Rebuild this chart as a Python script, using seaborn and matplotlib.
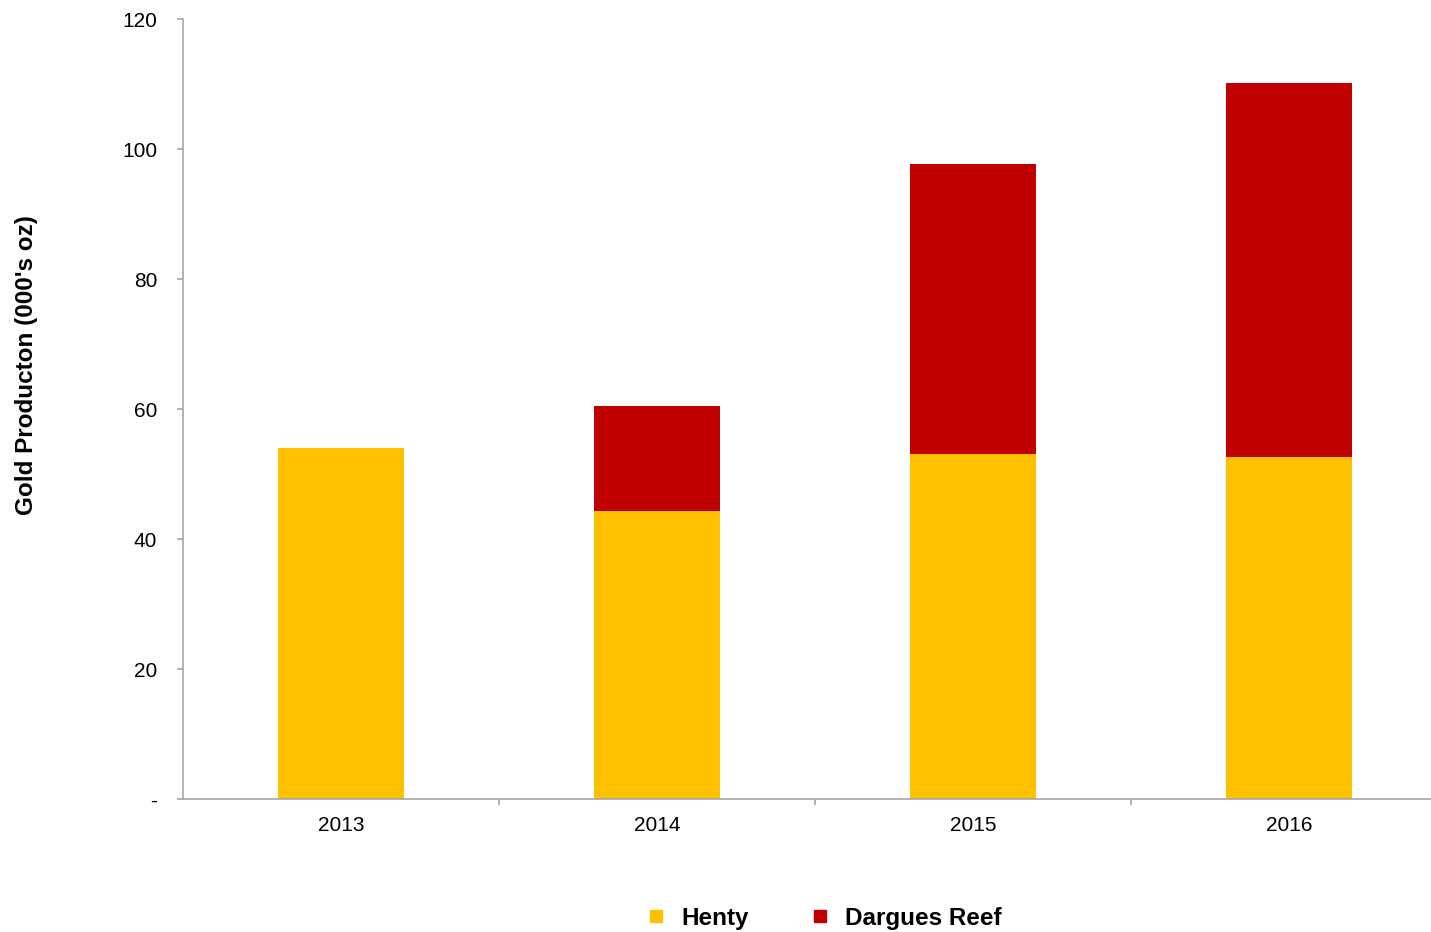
import numpy as np
import pandas as pd
import seaborn as sns
import matplotlib.pyplot as plt
from matplotlib.lines import Line2D

years = ['2013', '2014', '2015', '2016']
henty = [54.0, 44.3, 53.1, 52.6]
dargues = [0.0, 16.2, 44.6, 57.6]

sns.set_style('white')
plt.rcParams['font.family'] = ['Liberation Sans', 'DejaVu Sans']
plt.rcParams['text.color'] = 'black'
plt.rcParams['xtick.labelcolor'] = 'black'
plt.rcParams['ytick.labelcolor'] = 'black'
plt.rcParams['axes.labelcolor'] = 'black'

df = pd.DataFrame({'year': years, 'Henty': henty, 'Dargues Reef': dargues})
df['total'] = df['Henty'] + df['Dargues Reef']

yellow = '#FFC000'
red = '#C00000'
grey = '#A6A6A6'

fig = plt.figure(figsize=(14.31, 9.32), dpi=100)
ax = fig.add_axes([0.1279, 0.1427, 0.8721, 0.8369])

sns.barplot(data=df, x='year', y='total', color=red, width=0.4, saturation=1,
            linewidth=0, ax=ax)
sns.barplot(data=df, x='year', y='Henty', color=yellow, width=0.4, saturation=1,
            linewidth=0, ax=ax)

ax.set_ylim(0, 120)
ax.set_xlim(-0.5, 3.45)
ax.set_yticks([0, 20, 40, 60, 80, 100, 120])
ax.set_yticklabels(['-', '20', '40', '60', '80', '100', '120'])
ax.set_xlabel('')
ax.set_ylabel("Gold Producton (000's oz)", fontsize=17.5, fontweight='bold')
ax.yaxis.set_label_coords(-0.116, 0.556)

for s in ['top', 'right']:
    ax.spines[s].set_visible(False)
for s in ['left', 'bottom']:
    ax.spines[s].set_color(grey)
    ax.spines[s].set_linewidth(1.2)

ax.tick_params(axis='y', direction='out', length=4.5, width=1.2, color=grey,
               labelsize=15, pad=14, left=True)
ax.tick_params(axis='x', which='major', length=0, labelsize=15, pad=12)
ax.set_xticks([0.5, 1.5, 2.5], minor=True)
ax.tick_params(axis='x', which='minor', direction='out', length=4.5, width=1.2,
               color=grey, bottom=True)

handles = [Line2D([], [], marker='s', linestyle='', markersize=9, color=yellow),
           Line2D([], [], marker='s', linestyle='', markersize=9, color=red)]
fig.legend(handles, ['Henty', 'Dargues Reef'], loc='center', bbox_to_anchor=(0.5707, 0.015),
           ncol=2, frameon=False, prop={'size': 17.5, 'weight': 'bold'},
           handletextpad=0.05, columnspacing=1.9)

fig.savefig('out.png', dpi=100)
